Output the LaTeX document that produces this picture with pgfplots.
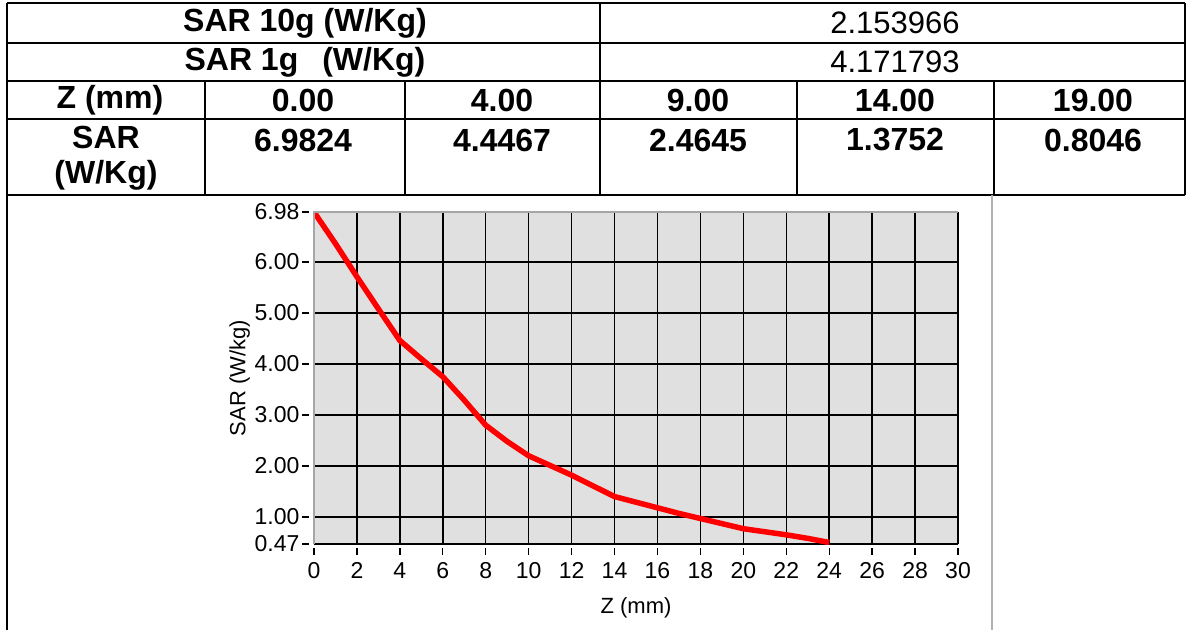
\documentclass[border=0pt]{standalone}
\usepackage{pgfplots}
\pgfplotsset{compat=1.18}
\usepackage{fontspec}
\setmainfont{Liberation Sans}
\begin{document}
\begin{tikzpicture}[x=1pt,y=1pt]
\useasboundingbox (0,0) rectangle (1189,630);
% ---- table (image y -> 630 - y) ----
\begin{scope}[line width=2.2pt]
\draw (7,627) -- (1185,627);
\draw (7,587) -- (1185,587);
\draw (7,549) -- (1185,549);
\draw (7,511) -- (1185,511);
\draw (7,435) -- (1185,435);
\draw (7,627) -- (7,0);
\draw (1185,627) -- (1185,435);
\draw (600,627) -- (600,435);
\draw (205,549) -- (205,435);
\draw (405,549) -- (405,435);
\draw (797,549) -- (797,435);
\draw (994,549) -- (994,435);
\end{scope}
\tikzset{bf/.style={font=\fontsize{32}{35}\selectfont\bfseries}, rg/.style={font=\fontsize{31}{34}\selectfont}}
\node[bf] at (305,607) {SAR 10g (W/Kg)};
\node[rg] at (895,607) {2.153966};
\node[bf] at (305,568) {SAR 1g\hspace{24pt}(W/Kg)};
\node[rg] at (895,568) {4.171793};
\node[bf] at (110,530) {Z (mm)};
\node[bf] at (303,530) {0.00};
\node[bf] at (502,530) {4.00};
\node[bf] at (698,530) {9.00};
\node[bf] at (895,530) {14.00};
\node[bf] at (1093,530) {19.00};
\node[bf, align=center, font=\fontsize{32}{35}\selectfont\bfseries] at (106,472) {SAR\\(W/Kg)};
\node[bf] at (303,490) {6.9824};
\node[bf] at (502,490) {4.4467};
\node[bf] at (698,490) {2.4645};
\node[bf] at (895,490) {1.3752};
\node[bf] at (1093,490) {0.8046};
\draw[line width=2pt, black!30] (992,435) -- (992,0);
% ---- chart ----
\begin{axis}[
  at={(314pt,86pt)}, anchor=south west,
  scale only axis, width=644pt, height=332pt,
  xmin=0, xmax=30, ymin=0.47, ymax=6.98,
  xtick={0,2,...,30},
  ytick={0.47,1,2,3,4,5,6,6.98},
  yticklabels={0.47,1.00,2.00,3.00,4.00,5.00,6.00,6.98},
  axis background/.style={fill=black!12},
  axis line style={draw=none},
  grid=major,
  major grid style={black, line width=1.5pt},
  xtick pos=bottom, ytick pos=left,
  tick align=outside,
  major tick length=7pt,
  tick style={black, line width=1.3pt},
  xtick style={yshift=-4pt},
  ytick style={xshift=-5pt},
  ticklabel style={font=\fontsize{23}{25}\selectfont},
  /pgf/number format/assume math mode=true,
  xticklabel style={yshift=-8pt},
  yticklabel style={xshift=-4pt},
  xlabel={Z (mm)}, ylabel={SAR (W/kg)},
  label style={font=\fontsize{22}{24}\selectfont},
  xlabel style={yshift=-12pt},
  ylabel style={yshift=-2pt},
  after end axis/.code={
    \draw[black!35, line width=2pt] (rel axis cs:0,0) -- (rel axis cs:0,1) -- (rel axis cs:1,1);
  },
]
\addplot[red, line width=5.5pt] coordinates {
(0,6.98) (1,6.36) (2,5.71) (3,5.08) (4,4.46) (5,4.10) (6,3.75) (7,3.29)
(8,2.80) (9,2.48) (10,2.20) (11,2.01) (12,1.82) (13,1.61) (14,1.40)
(15,1.29) (16,1.18) (17,1.07) (18,0.97) (19,0.87) (20,0.77) (21,0.71)
(22,0.65) (23,0.58) (24,0.50)
};
\end{axis}
\end{tikzpicture}
\end{document}
